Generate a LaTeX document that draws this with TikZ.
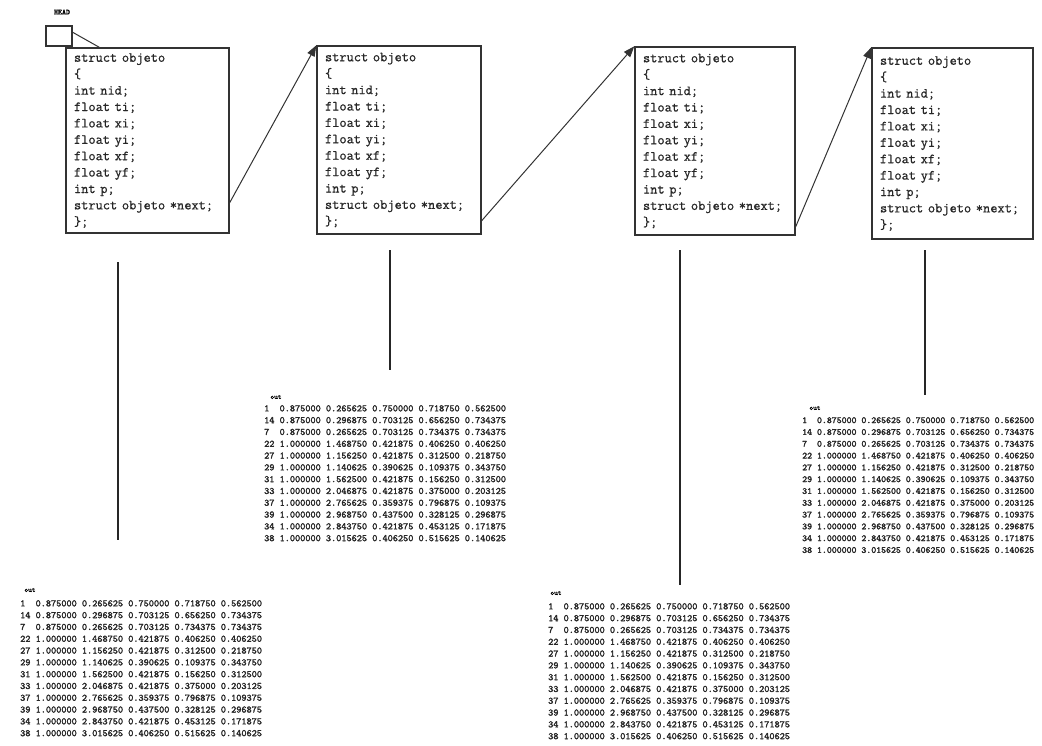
\documentclass[tikz,border=0pt]{standalone}
\usepackage{fontspec}
\newfontfamily\codefont[FakeBold=0.7]{Latin Modern Mono}
\newfontfamily\tabfont[FakeBold=2]{Latin Modern Mono}
\usetikzlibrary{arrows.meta,calc}

% Fields of one list element
\newcommand\structlines{struct objeto\\\{\\int nid;\\float ti;\\float xi;\\float yi;\\float xf;\\float yf;\\int p;\\struct objeto *next;\\\};}

% Rows written to the output file
\newcommand\outrows{%
1~ 0.875000 0.265625 0.750000 0.718750 0.562500\\
14 0.875000 0.296875 0.703125 0.656250 0.734375\\
7~ 0.875000 0.265625 0.703125 0.734375 0.734375\\
22 1.000000 1.468750 0.421875 0.406250 0.406250\\
27 1.000000 1.156250 0.421875 0.312500 0.218750\\
29 1.000000 1.140625 0.390625 0.109375 0.343750\\
31 1.000000 1.562500 0.421875 0.156250 0.312500\\
33 1.000000 2.046875 0.421875 0.375000 0.203125\\
37 1.000000 2.765625 0.359375 0.796875 0.109375\\
39 1.000000 2.968750 0.437500 0.328125 0.296875\\
34 1.000000 2.843750 0.421875 0.453125 0.171875\\
38 1.000000 3.015625 0.406250 0.515625 0.140625}

\begin{document}
\begin{tikzpicture}[x=1pt,y=-1pt,
  structbox/.style={draw=black!80, line width=1.4pt, inner ysep=0pt, inner xsep=8pt,
    align=left, text=black!85,
    font=\codefont\fontsize{14}{16.4}\selectfont},
  headbox/.style={draw=black!80, line width=1.4pt, minimum width=26pt, minimum height=20pt, inner sep=0pt},
  headlabel/.style={font=\tabfont\fontsize{7.5}{8}\selectfont},
  outtable/.style={anchor=north west, inner sep=0pt, align=left, text=black!85,
    font=\tabfont\fontsize{9.8}{11.8}\selectfont},
  outlabel/.style={font=\tabfont\fontsize{7}{7}\selectfont},
  link/.style={draw=black!80, line width=1pt, -{Triangle[length=11pt,width=8pt]}},
  stem/.style={draw=black!85, line width=1.5pt}]

\clip (0,0) rectangle (1042,745);
\fill[white] (0,0) rectangle (1042,745);

% head pointer
\node[headlabel] (headlbl) at (62,12) {HEAD};
\node[headbox] (head) at (59,36) {};

% list elements
\node[structbox, minimum width=163pt, minimum height=185pt, text width=147pt] (b1) at (147.5,140.5) {\structlines};
\node[structbox, minimum width=164pt, minimum height=188pt, text width=148pt] (b2) at (399,140) {\structlines};
\node[structbox, minimum width=160pt, minimum height=188pt, text width=144pt] (b3) at (715,141) {\structlines};
\node[structbox, minimum width=161pt, minimum height=191pt, text width=145pt] (b4) at (952.5,143.5) {\structlines};

% next pointers
\coordinate (h1) at ($(b1.north west)+(34,0)$);
\draw[draw=black!80, line width=1pt] ($(head.north east)+(0,7)$) -- (h1);
\coordinate (n1) at ($(b1.south east)+(0,-31)$);
\coordinate (n2) at ($(b2.south east)+(0,-14)$);
\coordinate (n3) at ($(b3.south east)+(0,-9)$);
\draw[link] (n1) -- (b2.north west);
\draw[link] (n2) -- (b3.north west);
\draw[link] (n3) -- (b4.north west);

% output tables
\node[outlabel] (o1) at (30,590) {out};
\node[outtable] (t1) at (20,600) {\outrows};
\node[outlabel] (o2) at (276,397) {out};
\node[outtable] (t2) at (264,405) {\outrows};
\node[outlabel] (o3) at (556,593) {out};
\node[outtable] (t3) at (548,603) {\outrows};
\node[outlabel] (o4) at (815,408) {out};
\node[outtable, font=\tabfont\fontsize{9.4}{11.8}\selectfont] (t4) at (802,417) {\outrows};

% stems from each element to its table
\coordinate (s1a) at (118,262); \coordinate (s1b) at (118,540);
\coordinate (s2a) at (390,250); \coordinate (s2b) at (390,370);
\coordinate (s3a) at (680,250); \coordinate (s3b) at (680,585);
\coordinate (s4a) at (925,250); \coordinate (s4b) at (925,395);
\draw[stem] (s1a) -- (s1b);
\draw[stem] (s2a) -- (s2b);
\draw[stem] (s3a) -- (s3b);
\draw[stem] (s4a) -- (s4b);
\end{tikzpicture}
\end{document}
